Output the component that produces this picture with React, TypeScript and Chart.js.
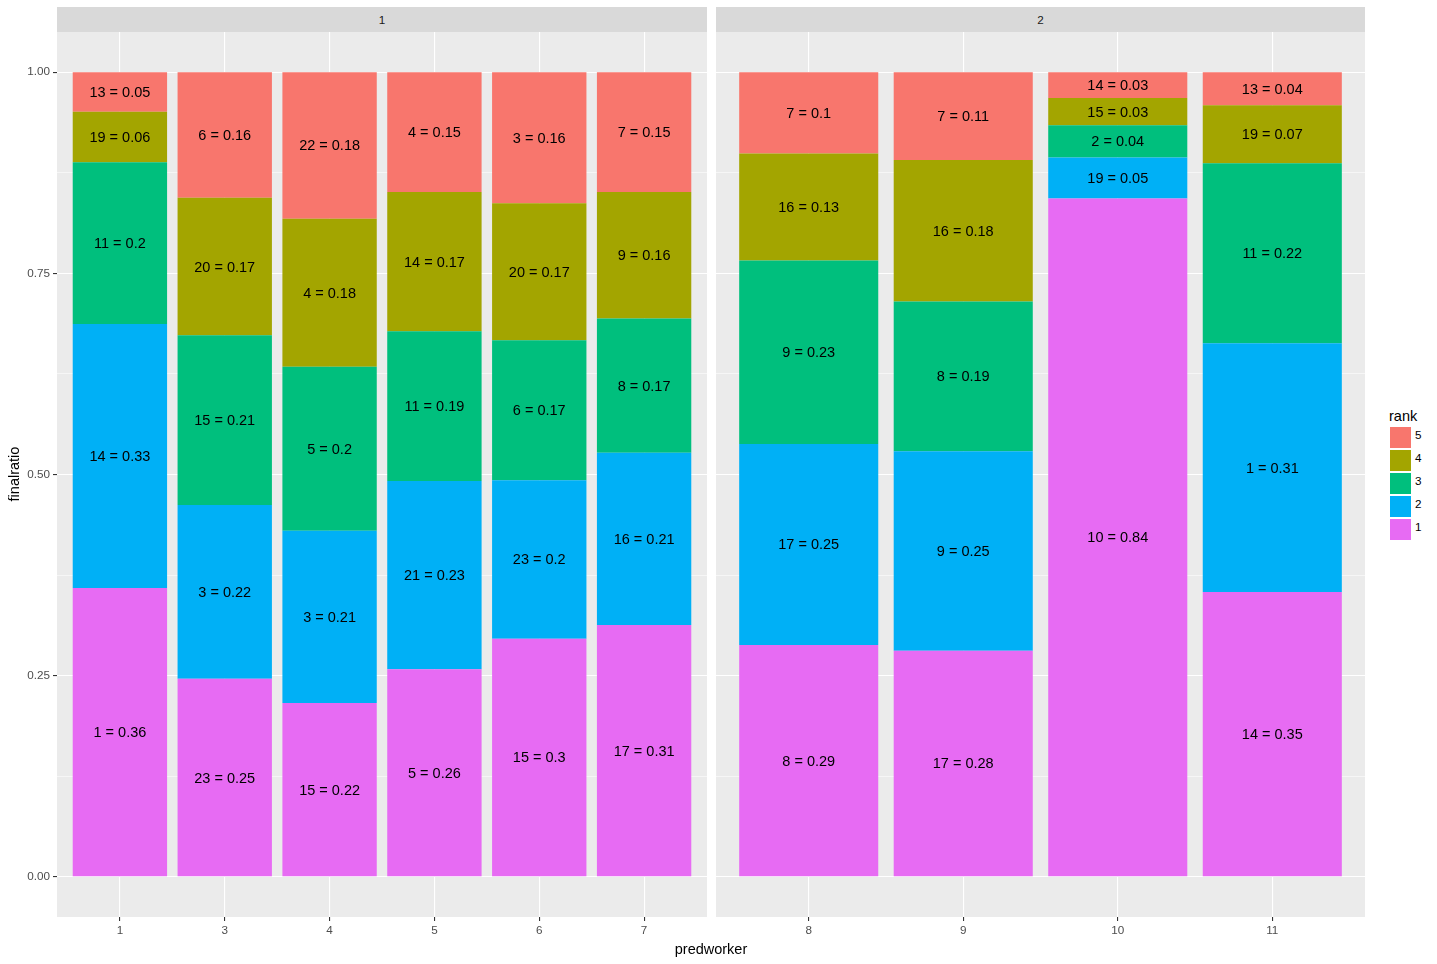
import React, { useEffect, useRef } from 'react';
import { Chart, registerables } from 'chart.js';

Chart.register(...registerables);

// ---------- data ----------
const predworkers = ['1', '3', '4', '5', '6', '7', '8', '9', '10', '11'];
const facetOf = [1, 1, 1, 1, 1, 1, 2, 2, 2, 2];
const facetLabels = ['1', '2'];

const rankNames = ['1', '2', '3', '4', '5'];
const rankColors = ['#E76BF3', '#00B0F6', '#00BF7D', '#A3A500', '#F8766D'];

const rank1Ids = [1, 23, 15, 5, 15, 17, 8, 17, 10, 14];
const rank1Values = [0.359, 0.246, 0.216, 0.258, 0.296, 0.313, 0.288, 0.281, 0.843, 0.354];
const rank2Ids = [14, 3, 3, 21, 23, 16, 17, 9, 19, 1];
const rank2Values = [0.328, 0.216, 0.214, 0.234, 0.197, 0.214, 0.25, 0.248, 0.051, 0.309];
const rank3Ids = [11, 15, 5, 11, 6, 8, 9, 8, 2, 11];
const rank3Values = [0.201, 0.211, 0.204, 0.186, 0.174, 0.167, 0.228, 0.186, 0.04, 0.224];
const rank4Ids = [19, 20, 4, 14, 20, 9, 16, 16, 15, 19];
const rank4Values = [0.063, 0.171, 0.184, 0.173, 0.17, 0.157, 0.133, 0.176, 0.034, 0.072];
const rank5Ids = [13, 6, 22, 4, 3, 7, 7, 7, 14, 13];
const rank5Values = [0.049, 0.156, 0.182, 0.149, 0.163, 0.149, 0.101, 0.109, 0.032, 0.041];

const yMajorTicks = [0, 0.25, 0.5, 0.75, 1];
const yMinorTicks = [0.125, 0.375, 0.625, 0.875];
const yLimits = [-0.05, 1.05];
const xTitle = 'predworker';
const yTitle = 'finalratio';
const legendTitle = 'rank';

const rankIds = [rank1Ids, rank2Ids, rank3Ids, rank4Ids, rank5Ids];
const rankValues = [rank1Values, rank2Values, rank3Values, rank4Values, rank5Values];

// ---------- styling ----------
const FONT = '"Liberation Sans", Arial, sans-serif';
const PANEL_BG = '#EBEBEB';
const STRIP_BG = '#D9D9D9';

const fmt = (v: number) => String(Number(v.toFixed(2)));

const bgPlugin = {
  id: 'panelBg',
  beforeDraw(chart: any) {
    const { ctx, chartArea } = chart;
    ctx.save();
    ctx.fillStyle = PANEL_BG;
    ctx.fillRect(chartArea.left, chartArea.top, chartArea.right - chartArea.left, chartArea.bottom - chartArea.top);
    ctx.restore();
  },
};

const labelPlugin = {
  id: 'barLabels',
  afterDatasetsDraw(chart: any) {
    const { ctx } = chart;
    ctx.save();
    ctx.font = `14.5px ${FONT}`;
    ctx.fillStyle = '#000000';
    ctx.textAlign = 'center';
    ctx.textBaseline = 'middle';
    chart.data.datasets.forEach((ds: any, di: number) => {
      const meta = chart.getDatasetMeta(di);
      meta.data.forEach((el: any, i: number) => {
        const p = el.getProps(['x', 'y', 'base'], true);
        const v = ds.data[i].y;
        ctx.fillText(`${ds.ids[i]} = ${fmt(v)}`, p.x, (p.y + p.base) / 2 + 1);
      });
    });
    ctx.restore();
  },
};

function Panel({ facet, left, width, showY }: { facet: number; left: number; width: number; showY: boolean }) {
  const ref = useRef<HTMLCanvasElement | null>(null);
  const idx = predworkers.map((_, i) => i).filter((i) => facetOf[i] === facet);
  const workers = idx.map((i) => predworkers[i]);
  const yAxisWidth = showY ? 57 : 0;
  const canvasLeft = left - yAxisWidth;
  const canvasWidth = width + yAxisWidth;
  const canvasTop = 32;
  const canvasHeight = 920;

  useEffect(() => {
    if (!ref.current) return;
    const datasets = rankNames.map((r, ri) => ({
      label: r,
      data: idx.map((gi, k) => ({ x: k + 1, y: rankValues[ri][gi] })),
      ids: idx.map((gi) => rankIds[ri][gi]),
      backgroundColor: rankColors[ri],
      borderWidth: 0,
      barPercentage: 0.9,
      categoryPercentage: 1,
      stack: 's',
    }));
    const isMajor = (v: number) => yMajorTicks.some((t) => Math.abs(t - v) < 1e-9);
    const chart = new Chart(ref.current, {
      type: 'bar',
      data: { datasets: datasets as any },
      options: {
        animation: false,
        responsive: false,
        devicePixelRatio: 1,
        maintainAspectRatio: false,
        layout: { padding: 0 },
        plugins: { legend: { display: false }, tooltip: { enabled: false } },
        scales: {
          x: {
            type: 'linear',
            min: 0.4,
            max: workers.length + 0.6,
            offset: false,
            border: { display: false },
            grid: {
              offset: false,
              color: '#FFFFFF',
              lineWidth: 1.1,
              tickColor: '#333333',
              tickLength: 4,
              drawTicks: true,
            },
            ticks: {
              color: '#4D4D4D',
              font: { family: FONT, size: 11.7 },
              padding: 3,
              maxRotation: 0,
              autoSkip: false,
              callback: (v: any) => workers[Math.round(Number(v)) - 1] ?? '',
            },
            afterBuildTicks: (s: any) => {
              s.ticks = workers.map((_, k) => ({ value: k + 1 }));
            },
            afterFit: (s: any) => {
              s.height = 35;
              s.paddingLeft = 0;
              s.paddingRight = 0;
            },
          },
          y: {
            type: 'linear',
            stacked: true,
            min: yLimits[0],
            max: yLimits[1],
            border: { display: false },
            grid: {
              color: '#FFFFFF',
              lineWidth: (c: any) => (isMajor(c.tick.value) ? 1.1 : 0.55),
              tickColor: (c: any) => (showY && isMajor(c.tick.value) ? '#333333' : 'rgba(0,0,0,0)'),
              tickLength: showY ? 4 : 0,
              drawTicks: showY,
            },
            ticks: {
              display: showY,
              color: '#4D4D4D',
              font: { family: FONT, size: 11.7 },
              padding: 3,
              autoSkip: false,
              callback: (v: any) => (isMajor(Number(v)) ? Number(v).toFixed(2) : ''),
            },
            afterBuildTicks: (s: any) => {
              s.ticks = [...yMajorTicks, ...yMinorTicks].sort((a, b) => a - b).map((v) => ({ value: v }));
            },
            afterFit: (s: any) => {
              s.width = yAxisWidth;
              s.paddingTop = 0;
              s.paddingBottom = 0;
            },
          },
        },
      },
      plugins: [bgPlugin, labelPlugin],
    });
    return () => chart.destroy();
  }, []);

  return (
    <>
      <div
        style={{
          position: 'absolute',
          left,
          top: 7,
          width,
          height: 25,
          background: STRIP_BG,
          color: '#1A1A1A',
          font: `11.7px ${FONT}`,
          display: 'flex',
          alignItems: 'center',
          justifyContent: 'center',
        }}
      >
        {facetLabels[facet - 1]}
      </div>
      <canvas
        ref={ref}
        width={canvasWidth}
        height={canvasHeight}
        style={{ position: 'absolute', left: canvasLeft, top: canvasTop, width: canvasWidth, height: canvasHeight }}
      />
    </>
  );
}

export default function App() {
  useEffect(() => {
    document.body.style.margin = '0';
    document.body.style.overflow = 'hidden';
  }, []);
  const legendOrder = [...rankNames.keys()].reverse();
  return (
    <div style={{ position: 'relative', width: 1437, height: 964, background: '#FFFFFF', overflow: 'hidden' }}>
      <Panel facet={1} left={57} width={650} showY={true} />
      <Panel facet={2} left={716} width={649} showY={false} />
      <div
        style={{
          position: 'absolute',
          left: 14 - 50,
          top: 474 - 10,
          width: 100,
          height: 20,
          transform: 'rotate(-90deg)',
          font: `14.5px ${FONT}`,
          color: '#000',
          textAlign: 'center',
          lineHeight: '20px',
        }}
      >
        {yTitle}
      </div>
      <div
        style={{
          position: 'absolute',
          left: 711 - 100,
          top: 939,
          width: 200,
          height: 20,
          font: `14.5px ${FONT}`,
          color: '#000',
          textAlign: 'center',
          lineHeight: '20px',
        }}
      >
        {xTitle}
      </div>
      <div style={{ position: 'absolute', left: 1389, top: 407, font: `14.5px ${FONT}`, color: '#000', lineHeight: '18px' }}>
        {legendTitle}
      </div>
      {legendOrder.map((ri, k) => (
        <React.Fragment key={ri}>
          <div
            style={{
              position: 'absolute',
              left: 1390,
              top: 427 + k * 23,
              width: 21,
              height: 21,
              background: rankColors[ri],
            }}
          />
          <div
            style={{
              position: 'absolute',
              left: 1415,
              top: 428 + k * 23,
              height: 21,
              lineHeight: '21px',
              font: `11.7px ${FONT}`,
              color: '#000',
            }}
          >
            {rankNames[ri]}
          </div>
        </React.Fragment>
      ))}
    </div>
  );
}
